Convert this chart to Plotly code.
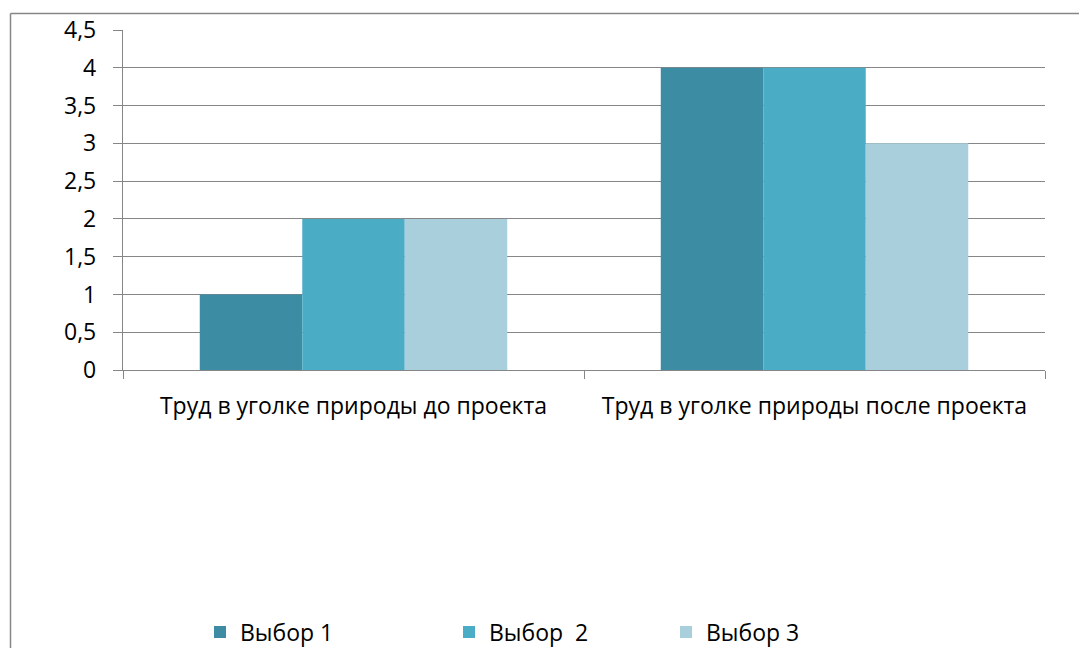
import plotly.graph_objects as go

categories = ["Труд в уголке природы до проекта", "Труд в уголке природы после проекта"]
series_names = ["Выбор 1", "Выбор  2", "Выбор 3"]
series_values = [[1, 4], [2, 4], [2, 3]]
colors = ["#3C8CA3", "#4BACC6", "#A9CEDC"]

W, H = 1079, 648
L, R, T, B = 123, 1045, 30, 370
pw, ph = R - L, B - T

font = "Open Sans"
fs = 23
fig = go.Figure()
legend_names = ["legend", "legend2", "legend3"]
legend_x_px = [200, 449, 666]
for i, (name, vals) in enumerate(zip(series_names, series_values)):
    fig.add_trace(go.Bar(x=categories, y=vals, name=name, marker_color=colors[i],
                         marker_line_width=0, legend=legend_names[i]))

layout_legends = {}
for i, ln in enumerate(legend_names):
    layout_legends[ln] = dict(xref="container", yref="container",
                              x=legend_x_px[i] / W, y=1 - 632 / H,
                              xanchor="left", yanchor="middle", orientation="h",
                              font=dict(family=font, size=fs, color="#000"),
                              bgcolor="rgba(0,0,0,0)", itemclick=False)

bx0, by0 = (10.5 - L) / pw, 1 + (T - 13.5) / ph
fig.update_layout(
    width=W, height=H,
    margin=dict(l=L, r=W - R, t=T, b=H - B, pad=0, autoexpand=False),
    plot_bgcolor="white", paper_bgcolor="white",
    barmode="group", bargap=0.333, bargroupgap=0,
    separators=", ",
    showlegend=True,
    xaxis=dict(showline=True, linecolor="#868686", linewidth=1.3, ticks="outside",
               tickson="boundaries", ticklen=8, tickcolor="#868686", tickwidth=1.3,
               ticklabelstandoff=15,
               tickfont=dict(family=font, size=fs, color="#000"), showgrid=False),
    yaxis=dict(range=[0, 4.5], dtick=0.5, showline=True, linecolor="#868686", linewidth=1.3,
               ticks="outside", ticklen=9, tickcolor="#868686", tickwidth=1.3,
               ticklabelstandoff=12,
               gridcolor="#868686", gridwidth=1.3, zeroline=False,
               tickfont=dict(family=font, size=fs, color="#000")),
    shapes=[
        dict(type="line", xref="paper", yref="paper", x0=bx0, x1=(1200 - L) / pw, y0=by0, y1=by0,
             line=dict(color="#868686", width=1.5), layer="below"),
        dict(type="line", xref="paper", yref="paper", x0=bx0, x1=bx0, y0=by0, y1=1 - (800 - T) / ph,
             line=dict(color="#868686", width=1.5), layer="below"),
    ],
    **layout_legends,
)
fig.write_html("out.html", config={"displayModeBar": False},
               post_script="document.body.style.margin='0';document.body.style.overflow='hidden';")
